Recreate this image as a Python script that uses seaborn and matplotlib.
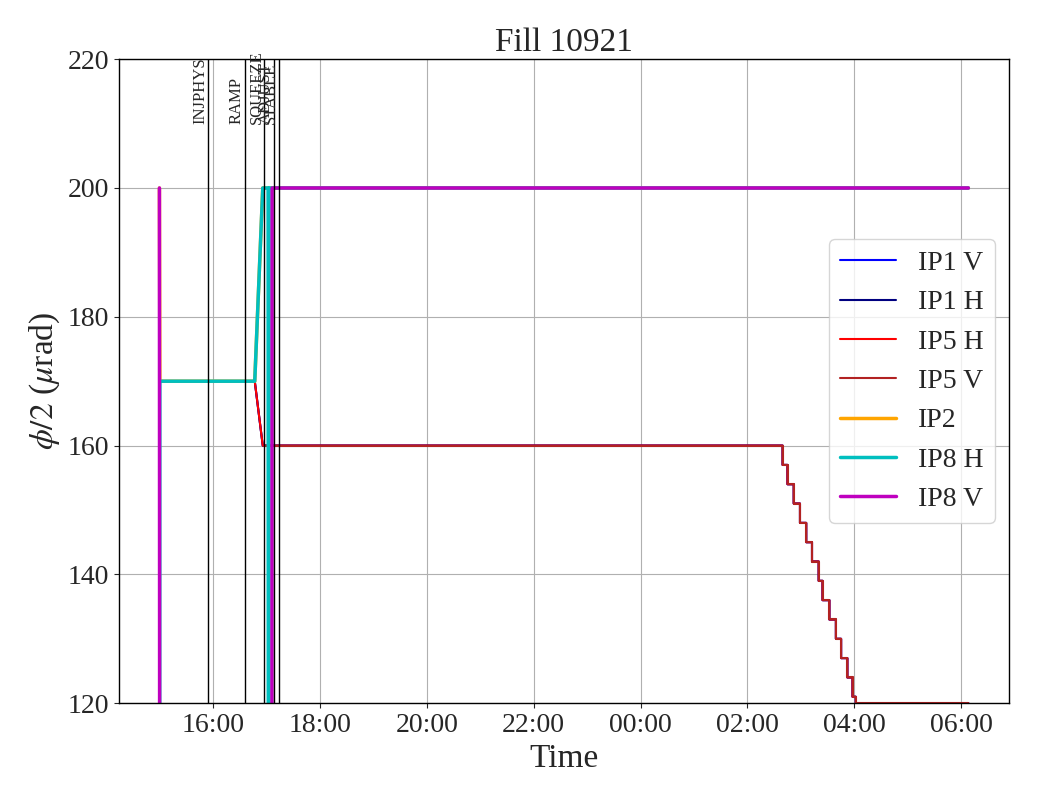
import matplotlib
matplotlib.use("Agg")
import matplotlib.pyplot as plt
import matplotlib.dates as mdates
import pandas as pd
import seaborn as sns

FILL = 10921
DAY = "2025-08-14"

# beam modes
MODE_NAMES = ["INJPHYS", "RAMP", "SQUEEZE", "ADJUST", "STABLE"]
MODE_TIMES = ["15:54:30", "16:35:50", "16:57:40", "17:08:30", "17:13:40"]

# crossing angle levelling steps (IP1 / IP5), half angle in urad
LEVEL_TIMES = ["02:39:30", "02:45:00", "02:52:00", "02:59:00", "03:06:00",
               "03:12:30", "03:20:00", "03:24:20", "03:32:00", "03:39:20",
               "03:45:10", "03:52:10", "03:58:00", "04:01:40"]
LEVEL_VALUES = [157, 154, 151, 148, 145, 142, 139, 136, 133, 130, 127, 124, 121, 120]
END_TIME = "06:08"

# IP1 / IP5 H before levelling
IP15_TIMES = ["15:00", "16:47", "16:56"]
IP15_VALUES = [170, 170, 160]
# IP5 V only logged from squeeze on
IP5V_TIMES = ["16:57:20"]
IP5V_VALUES = [160]

IP2_TIMES = ["15:00", "15:00:30", "16:47", "16:56", END_TIME]
IP2_VALUES = [200, 170, 170, 200, 200]

IP8H_TIMES = ["15:00", "15:00:30", "16:47", "16:56", "17:02", "17:02:30", "17:03", END_TIME]
IP8H_VALUES = [0, 170, 170, 200, 200, 0, 200, 200]

IP8V_TIMES = ["15:00", "15:00:30", "17:06", "17:06:30", END_TIME]
IP8V_VALUES = [200, 0, 0, 200, 200]


def to_time(hhmm):
    t = pd.Timestamp(f"{DAY} {hhmm}")
    if t.hour < 12:
        t += pd.Timedelta(days=1)
    return t


def with_levelling(times, values):
    """Append the levelling staircase to a series."""
    xs = [to_time(t) for t in times]
    ys = list(values)
    for t, v in zip(LEVEL_TIMES, LEVEL_VALUES):
        xs += [to_time(t), to_time(t)]
        ys += [ys[-1], v]
    xs.append(to_time(END_TIME))
    ys.append(ys[-1])
    return xs, ys


def plain(times, values):
    return [to_time(t) for t in times], list(values)


series = [
    ("IP1 V", with_levelling(IP15_TIMES, IP15_VALUES), "blue", 1.5),
    ("IP1 H", with_levelling(IP15_TIMES, IP15_VALUES), "navy", 1.5),
    ("IP5 H", with_levelling(IP15_TIMES, IP15_VALUES), "red", 1.5),
    ("IP5 V", with_levelling(IP5V_TIMES, IP5V_VALUES), "firebrick", 1.5),
    ("IP2", plain(IP2_TIMES, IP2_VALUES), "orange", 2.5),
    ("IP8 H", plain(IP8H_TIMES, IP8H_VALUES), "c", 2.5),
    ("IP8 V", plain(IP8V_TIMES, IP8V_VALUES), "m", 2.5),
]

sns.set_style("white")
plt.rcParams["font.family"] = ["Liberation Serif", "DejaVu Serif"]
plt.rcParams["mathtext.fontset"] = "stix"

fig, ax = plt.subplots(figsize=(10.4, 8), dpi=100)
fig.subplots_adjust(left=0.1144, right=0.970, bottom=0.121, top=0.926)

for name, (xs, ys), color, lw in series:
    sns.lineplot(x=xs, y=ys, ax=ax, color=color, lw=lw, label=name,
                 estimator=None, sort=False)

for name, t in zip(MODE_NAMES, MODE_TIMES):
    ax.axvline(to_time(t), color="black", lw=1)
    ax.text(to_time(t), 210, name, rotation=90, ha="right", va="bottom", fontsize=12)

ax.set_ylim(120, 220)
ax.xaxis.set_major_locator(mdates.HourLocator(byhour=range(0, 24, 2)))
ax.xaxis.set_major_formatter(mdates.DateFormatter("%H:%M"))
ax.grid(True, color="#b0b0b0", lw=0.8)
for sp in ax.spines.values():
    sp.set_color("black")
    sp.set_linewidth(1)
ax.tick_params(labelsize=20, length=3.5, direction="out", bottom=True, left=True)

ax.set_title(f"Fill {FILL}", fontsize=24)
ax.set_xlabel("Time", fontsize=24)
ax.set_ylabel(r"$\phi/2$ ($\mu$rad)", fontsize=24)
ax.legend(loc="center right", fontsize=20)

fig.savefig("out.png", dpi=100)
